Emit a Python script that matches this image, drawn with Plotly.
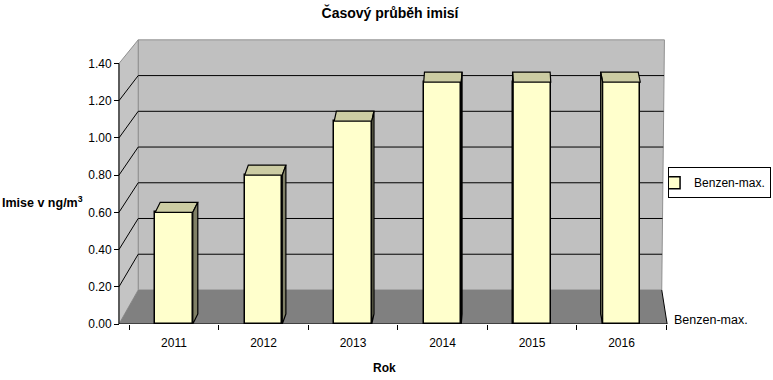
import plotly.graph_objects as go

# ---- data ----
years = ["2011", "2012", "2013", "2014", "2015", "2016"]
benzen_max = [0.60, 0.80, 1.09, 1.30, 1.30, 1.30]
y_ticks = [0.0, 0.2, 0.4, 0.6, 0.8, 1.0, 1.2, 1.4]
series_name = "Benzen-max."

FONT = "Arial, Liberation Sans, sans-serif"

# ---- geometry of the fake 3D box (data units) ----
x_front, x_back, x_right_front, x_right_back = -0.615, -0.40, 5.51, 5.45
floor_depth = 0.183          # back floor edge height in y units
back_scale = 0.96            # perspective shrink of the back wall
bar_w = 0.42
bar_dy = 0.054               # top-face depth in y units


def yb(v):
    return floor_depth + v * back_scale


ytop = yb(y_ticks[-1])
xs = list(range(len(years)))

fig = go.Figure()
fig.add_trace(go.Bar(
    x=xs, y=benzen_max, width=bar_w, name=series_name,
    marker=dict(color="#FFFFCC", line=dict(color="black", width=1.5)),
    showlegend=True,
))

shapes = []
# back wall
shapes.append(dict(type="path", layer="below", xref="x", yref="y",
                   path=f"M{x_back},{floor_depth} L{x_back},{ytop} L{x_right_back + 0.03},{ytop} L{x_right_back},{floor_depth} Z",
                   fillcolor="#C0C0C0", line=dict(color="#909090", width=1)))
# left wall
shapes.append(dict(type="path", layer="below", xref="x", yref="y",
                   path=f"M{x_front},0 L{x_front},{y_ticks[-1]} L{x_back},{ytop} L{x_back},{floor_depth} Z",
                   fillcolor="#C4C4C4", line=dict(color="#909090", width=1)))
# floor
shapes.append(dict(type="path", layer="below", xref="x", yref="y",
                   path=f"M{x_front},0 L{x_right_front},0 L{x_right_back},{floor_depth} L{x_back},{floor_depth} Z",
                   fillcolor="#808080", line=dict(width=0)))
# gridlines
for v in y_ticks[1:-1]:
    shapes.append(dict(type="line", layer="below", xref="x", yref="y",
                       x0=x_front, y0=v, x1=x_back, y1=yb(v), line=dict(color="black", width=1)))
    shapes.append(dict(type="line", layer="below", xref="x", yref="y",
                       x0=x_back, y0=yb(v), x1=x_right_back + 0.03 * (v / y_ticks[-1]), y1=yb(v),
                       line=dict(color="black", width=1)))
# floor front edge and value axis line
shapes.append(dict(type="line", layer="above", xref="x", yref="y",
                   x0=x_front, y0=0, x1=x_right_front, y1=0, line=dict(color="black", width=1)))
shapes.append(dict(type="line", layer="above", xref="x", yref="y",
                   x0=x_front, y0=0, x1=x_front, y1=y_ticks[-1], line=dict(color="black", width=1)))
# right floor edge
shapes.append(dict(type="line", layer="above", xref="x", yref="y",
                   x0=x_right_front, y0=0, x1=x_right_back, y1=floor_depth, line=dict(color="black", width=1)))

# bar tops and sides (perspective)
hw = bar_w / 2
for i, v in zip(xs, benzen_max):
    dx = 0.0157 * (3.56 - i)
    shapes.append(dict(type="path", layer="above", xref="x", yref="y",
                       path=f"M{i - hw},{v} L{i + hw},{v} L{i + hw + dx},{v + bar_dy} L{i - hw + dx},{v + bar_dy} Z",
                       fillcolor="#CCCCA3", line=dict(color="black", width=1.2)))
    edge = i + hw if dx > 0 else i - hw
    shapes.append(dict(type="path", layer="above", xref="x", yref="y",
                       path=f"M{edge},0 L{edge},{v} L{edge + dx},{v + bar_dy} L{edge + dx},{bar_dy} Z",
                       fillcolor="#808066", line=dict(color="black", width=1.2)))

annotations = [
    dict(text="<b>Imise v ng/m<sup>3</sup></b>", xref="paper", yref="paper",
         x=-0.1724, y=0.425, xanchor="left", yanchor="middle", showarrow=False,
         font=dict(family=FONT, size=12.5, color="black")),
    dict(text="<b>Rok</b>", xref="x", yref="paper", x=2.357, y=-0.154,
         xanchor="center", yanchor="middle", showarrow=False,
         font=dict(family=FONT, size=12, color="black")),
    dict(text=series_name, xref="x", yref="y", x=5.56, y=0.02,
         xanchor="left", yanchor="middle", showarrow=False,
         font=dict(family=FONT, size=12.5, color="black")),
]

fig.update_layout(
    width=773, height=380,
    margin=dict(l=100, r=93, t=38, b=56, autoexpand=False),
    paper_bgcolor="white", plot_bgcolor="white",
    title=dict(text="<b>Časový průběh imisí</b>", x=390 / 773, xref="container", xanchor="center",
               y=1 - 13 / 380, yref="container", yanchor="middle",
               font=dict(family=FONT, size=14, color="black")),
    font=dict(family=FONT, size=12, color="black"),
    xaxis=dict(range=[-0.827, 5.654], tickvals=xs, ticktext=years, ticks="",
               showline=False, showgrid=False, zeroline=False, ticklabelstandoff=10,
               minor=dict(tickvals=[i - 0.5 for i in range(len(years) + 1)], ticks="outside",
                          ticklen=5, tickcolor="black", showgrid=False),
               tickfont=dict(family=FONT, size=12, color="black")),
    yaxis=dict(range=[0, 1.537], tickvals=y_ticks, tickformat=".2f", anchor="free",
               position=19 / 580, ticks="outside", ticklen=5, tickcolor="black",
               showline=False, showgrid=False, zeroline=False,
               tickfont=dict(family=FONT, size=12, color="black")),
    legend=dict(x=1.157, xanchor="right", y=0.548, yanchor="top", bordercolor="black",
                borderwidth=1, bgcolor="white", itemwidth=30, indentation=-15,
                tracegroupgap=0, font=dict(family=FONT, size=12, color="black")),
    shapes=shapes,
    annotations=annotations,
    bargap=0,
)

fig.write_html("out.html")
